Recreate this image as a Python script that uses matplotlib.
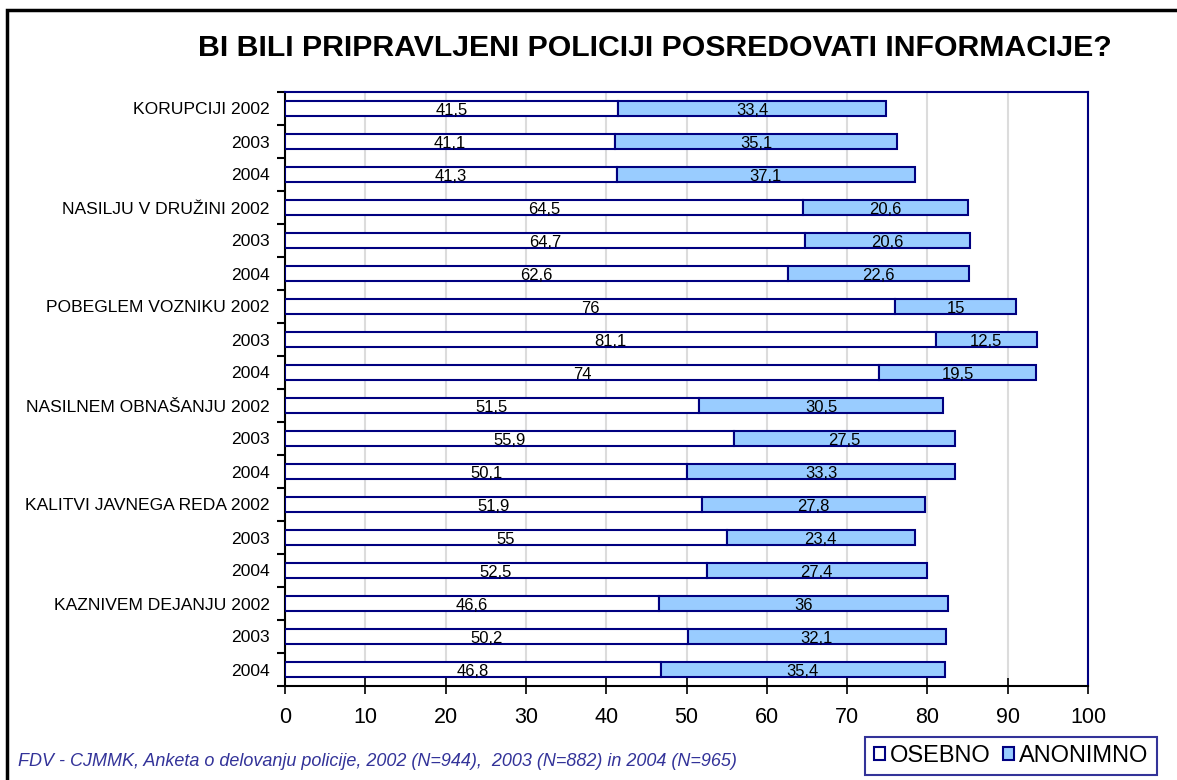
import matplotlib.pyplot as plt
import matplotlib.patches as mpatches
import numpy as np

plt.rcParams['font.family'] = ['Liberation Sans', 'DejaVu Sans']

# data
labels = ["KORUPCIJI 2002", "2003", "2004",
          "NASILJU V DRUŽINI 2002", "2003", "2004",
          "POBEGLEM VOZNIKU 2002", "2003", "2004",
          "NASILNEM OBNAŠANJU 2002", "2003", "2004",
          "KALITVI JAVNEGA REDA 2002", "2003", "2004",
          "KAZNIVEM DEJANJU 2002", "2003", "2004"]
osebno = [41.5, 41.1, 41.3, 64.5, 64.7, 62.6, 76, 81.1, 74,
          51.5, 55.9, 50.1, 51.9, 55, 52.5, 46.6, 50.2, 46.8]
anonimno = [33.4, 35.1, 37.1, 20.6, 20.6, 22.6, 15, 12.5, 19.5,
            30.5, 27.5, 33.3, 27.8, 23.4, 27.4, 36, 32.1, 35.4]
x_ticks = [0, 10, 20, 30, 40, 50, 60, 70, 80, 90, 100]

navy = '#000080'
light = '#99CCFF'

fig = plt.figure(figsize=(11.77, 7.80), dpi=100)
ax = fig.add_axes([285/1177, 1-686/780, (1088-285)/1177, (686-92)/780])

y = np.arange(len(labels))
h = 0.44
ax.barh(y, osebno, height=h, color='white', edgecolor=navy, linewidth=1.5, zorder=3)
ax.barh(y, anonimno, left=osebno, height=h, color=light, edgecolor=navy, linewidth=1.5, zorder=3)

def fmt(v):
    return ('%g' % v).replace('.', ',')

for i in range(len(labels)):
    ax.text(osebno[i] / 2, y[i] + 0.07, fmt(osebno[i]), ha='center', va='center',
            fontsize=12, zorder=4)
    ax.text(osebno[i] + anonimno[i] / 2, y[i] + 0.07, fmt(anonimno[i]), ha='center',
            va='center', fontsize=12, zorder=4)

ax.set_xlim(0, 100)
ax.set_ylim(len(labels) - 0.5, -0.5)
ax.set_xticks(x_ticks)
ax.set_yticks(y)
ax.set_yticklabels(labels, fontsize=12.6)
ax.set_yticks(np.arange(len(labels) + 1) - 0.5, minor=True)
ax.tick_params(axis='y', which='major', length=0, pad=11)
ax.tick_params(axis='y', which='minor', length=6, width=1.5, direction='out')
ax.tick_params(axis='x', which='major', labelsize=15.5, length=12, width=1.2,
               direction='inout', pad=9)
ax.grid(axis='x', color='#dcdcdc', linewidth=1.5, zorder=0)
ax.set_axisbelow(True)

for side in ['top', 'right']:
    ax.spines[side].set_color(navy)
    ax.spines[side].set_linewidth(1.5)
for side in ['left', 'bottom']:
    ax.spines[side].set_color('black')
    ax.spines[side].set_linewidth(1.5)

fig.text(655/1177, 1-48/780, 'BI BILI PRIPRAVLJENI POLICIJI POSREDOVATI INFORMACIJE?',
         ha='center', va='center', fontsize=21.8, fontweight='bold')
fig.text(18/1177, 1-762/780,
         'FDV - CJMMK, Anketa o delovanju policije, 2002 (N=944),  2003 (N=882) in 2004 (N=965)',
         ha='left', va='center', fontsize=13, style='italic', color='#333399')

handles = [mpatches.Patch(facecolor='white', edgecolor=navy, linewidth=1.5, label='OSEBNO'),
           mpatches.Patch(facecolor=light, edgecolor=navy, linewidth=1.5, label='ANONIMNO')]
leg = fig.legend(handles=handles, loc='center', bbox_to_anchor=(1011/1177, 1-756/780),
                 ncol=2, fontsize=17, frameon=True, fancybox=False, handlelength=0.5,
                 handleheight=0.5, handletextpad=0.2, columnspacing=0.5,
                 borderpad=0.35, borderaxespad=0)
leg.get_frame().set_edgecolor(navy)
leg.get_frame().set_linewidth(1.5)

# outer border
fig.add_artist(mpatches.Rectangle((7/1177, -0.05), 1.1, 1-10/780 + 0.05,
                                  transform=fig.transFigure, fill=False,
                                  edgecolor='black', linewidth=2.5))

fig.savefig('out.png', dpi=100)
